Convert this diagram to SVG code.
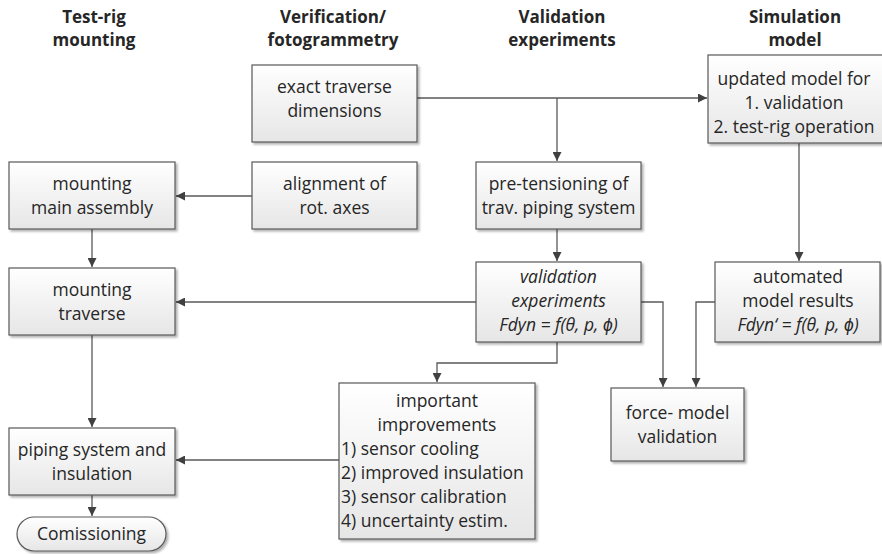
<svg xmlns="http://www.w3.org/2000/svg" width="882" height="554" viewBox="0 0 882 554">
<defs>
<linearGradient id="g" x1="0" y1="0" x2="0" y2="1">
<stop offset="0" stop-color="#ffffff"/>
<stop offset="1" stop-color="#e6e6e6"/>
</linearGradient>
<filter id="sh" x="-10%" y="-10%" width="130%" height="130%">
<feDropShadow dx="2" dy="2" stdDeviation="1.2" flood-color="#000" flood-opacity="0.3"/>
</filter>
<marker id="ah" viewBox="0 0 10 10" refX="10" refY="5" markerWidth="9" markerHeight="9" markerUnits="userSpaceOnUse" orient="auto">
<path d="M0,0 L10,5 L0,10 z" fill="#404040"/>
</marker>
</defs>
<style>
.box{fill:url(#g);stroke:#595959;stroke-width:1.2;filter:url(#sh)}
.t{font-family:"Open Sans","Liberation Sans",sans-serif;font-size:17.5px;fill:#262626;text-anchor:middle}
.i{font-style:italic}
.l{text-anchor:start}
.h{font-family:"Open Sans","Liberation Sans",sans-serif;font-size:17px;font-weight:bold;fill:#262626;text-anchor:middle}
.c{fill:none;stroke:#595959;stroke-width:1.3;marker-end:url(#ah)}
</style>
<rect width="882" height="554" fill="#ffffff"/>
<g id="headers">
<text class="h" x="94" y="23">Test-rig</text>
<text class="h" x="94" y="46">mounting</text>
<text class="h" x="333" y="23">Verification/</text>
<text class="h" x="333" y="46">fotogrammetry</text>
<text class="h" x="562" y="23">Validation</text>
<text class="h" x="562" y="46">experiments</text>
<text class="h" x="795" y="23">Simulation</text>
<text class="h" x="795" y="46">model</text>
</g>
<g id="connectors">
<path class="c" d="M417,98 H707"/>
<path class="c" d="M557,98 V161"/>
<path class="c" d="M252,196 H176"/>
<path class="c" d="M92,229 V267"/>
<path class="c" d="M476,302 H176"/>
<path class="c" d="M557,229 V261"/>
<path class="c" d="M799,143 V261"/>
<path class="c" d="M641,302 H663 V387"/>
<path class="c" d="M715,302 H696 V387"/>
<path class="c" d="M557,342 V363 H437 V382"/>
<path class="c" d="M339,460 H176"/>
<path class="c" d="M92,335 V427"/>
<path class="c" d="M92,495 V516"/>
</g>
<g id="n-exact">
<rect class="box" x="252" y="65" width="165" height="77"/>
<text class="t" x="334.5" y="93">exact traverse</text>
<text class="t" x="334.5" y="117">dimensions</text>
</g>
<g id="n-updated">
<rect class="box" x="708" y="55" width="180" height="88"/>
<text class="t" x="794" y="85">updated model for</text>
<text class="t" x="794" y="109">1. validation</text>
<text class="t" x="794" y="133">2. test-rig operation</text>
</g>
<g id="n-mainasm">
<rect class="box" x="9" y="162" width="166" height="67"/>
<text class="t" x="92" y="190">mounting</text>
<text class="t" x="92" y="214">main assembly</text>
</g>
<g id="n-align">
<rect class="box" x="252" y="162" width="165" height="67"/>
<text class="t" x="334.5" y="190">alignment of</text>
<text class="t" x="334.5" y="214">rot. axes</text>
</g>
<g id="n-pretension">
<rect class="box" x="476" y="162" width="165" height="67"/>
<text class="t" x="558.5" y="190">pre-tensioning of</text>
<text class="t" x="558.5" y="214">trav. piping system</text>
</g>
<g id="n-traverse">
<rect class="box" x="9" y="268" width="166" height="67"/>
<text class="t" x="92" y="296">mounting</text>
<text class="t" x="92" y="320">traverse</text>
</g>
<g id="n-valexp">
<rect class="box" x="476" y="262" width="165" height="80"/>
<text class="t i" x="558.5" y="283">validation</text>
<text class="t i" x="558.5" y="307">experiments</text>
<text class="t i" x="558.5" y="331">Fdyn = f(θ, p, ϕ)</text>
</g>
<g id="n-automated">
<rect class="box" x="715" y="262" width="165" height="80"/>
<text class="t" x="798" y="283">automated</text>
<text class="t" x="798" y="307">model results</text>
<text class="t i" x="798" y="331">Fdyn‘ = f(θ, p, ϕ)</text>
</g>
<g id="n-improvements">
<rect class="box" x="339" y="383" width="196" height="156"/>
<text class="t" x="437" y="407">important</text>
<text class="t" x="437" y="431">improvements</text>
<text class="t l" x="341" y="455">1) sensor cooling</text>
<text class="t l" x="341" y="479">2) improved insulation</text>
<text class="t l" x="341" y="503">3) sensor calibration</text>
<text class="t l" x="341" y="527">4) uncertainty estim.</text>
</g>
<g id="n-forcemodel">
<rect class="box" x="611" y="388" width="133" height="73"/>
<text class="t" x="677.5" y="419">force- model</text>
<text class="t" x="677.5" y="443">validation</text>
</g>
<g id="n-piping">
<rect class="box" x="9" y="428" width="166" height="67"/>
<text class="t" x="92" y="456">piping system and</text>
<text class="t" x="92" y="480">insulation</text>
</g>
<g id="n-comissioning">
<rect class="box" x="17" y="517" width="149" height="34" rx="17" ry="17"/>
<text class="t" x="91.5" y="540">Comissioning</text>
</g>
</svg>
